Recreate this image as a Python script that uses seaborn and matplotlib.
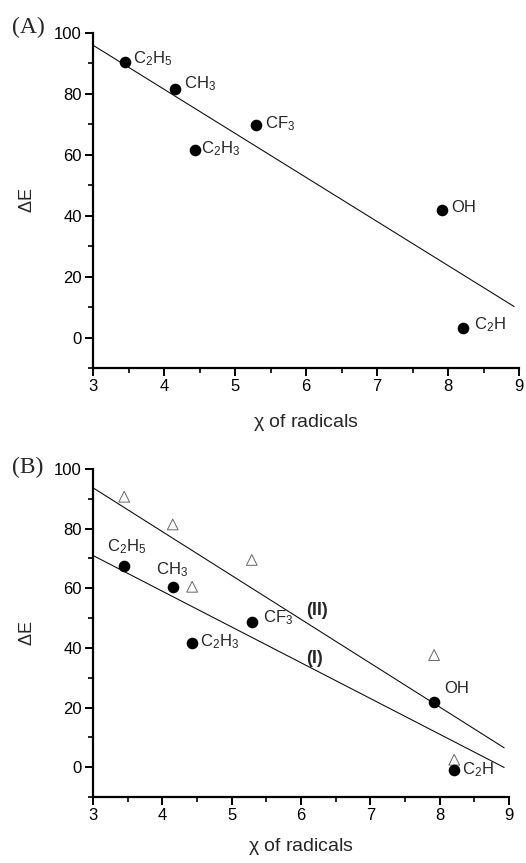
import numpy as np
import pandas as pd
import matplotlib
matplotlib.use("Agg")
import matplotlib.pyplot as plt
from matplotlib.ticker import MultipleLocator
import seaborn as sns

# values
radicals = ["C2H5", "CH3", "C2H3", "CF3", "OH", "C2H"]
chi = [3.45, 4.15, 4.43, 5.29, 7.92, 8.21]
dE_a = [90.5, 81.6, 61.6, 69.8, 41.8, 3.0]
dE_b_circle = [67.6, 60.5, 41.5, 48.6, 21.7, -1.0]
dE_b_triangle = [90.7, 81.4, 60.5, 69.5, 37.6, 2.5]

fit_x = [3.0, 8.93]
fit_a = [96.0, 10.2]
fit_b_I = [71.0, -0.1]
fit_b_II = [93.7, 6.5]

labels_tex = {
    "C2H5": r"C$_2$H$_5$",
    "CH3": r"CH$_3$",
    "C2H3": r"C$_2$H$_3$",
    "CF3": r"CF$_3$",
    "OH": "OH",
    "C2H": r"C$_2$H",
}

sns.set_style("ticks")
plt.rcParams["font.family"] = ["Liberation Sans", "DejaVu Sans"]
plt.rcParams["mathtext.fontset"] = "custom"
plt.rcParams["mathtext.rm"] = "Liberation Sans"
plt.rcParams["mathtext.default"] = "regular"

df_a = pd.DataFrame({"radical": radicals, "chi": chi, "dE": dE_a})
df_b = pd.DataFrame({"radical": radicals, "chi": chi,
                     "circle": dE_b_circle, "triangle": dE_b_triangle})

fig = plt.figure(figsize=(5.26, 8.63), dpi=100)
ax_a = fig.add_axes([93 / 526, 1 - 368 / 863, 426 / 526, 335 / 863])
ax_b = fig.add_axes([93 / 526, 1 - 797 / 863, 416 / 526, 328 / 863])


def style_axis(ax):
    ax.set_xlim(3, 9)
    ax.set_ylim(-10, 100)
    ax.xaxis.set_major_locator(MultipleLocator(1))
    ax.xaxis.set_minor_locator(MultipleLocator(0.5))
    ax.yaxis.set_major_locator(MultipleLocator(20))
    ax.yaxis.set_minor_locator(MultipleLocator(10))
    ax.set_yticks([0, 20, 40, 60, 80, 100])
    for side in ["top", "right"]:
        ax.spines[side].set_visible(False)
    for side in ["left", "bottom"]:
        ax.spines[side].set_linewidth(1.6)
        ax.spines[side].set_color("black")
    ax.tick_params(which="major", length=6, width=1.4, labelsize=12, pad=2, colors="black")
    ax.tick_params(which="minor", length=3.5, width=1.2, colors="black")
    ax.set_ylabel(r"$\Delta$E", fontsize=13, labelpad=13)
    ax.set_facecolor("white")


# (A)
sns.lineplot(x=fit_x, y=fit_a, ax=ax_a, color="#111111", linewidth=0.8)
sns.scatterplot(data=df_a, x="chi", y="dE", ax=ax_a, color="black",
                s=70, marker="o", edgecolor="black", linewidth=0, zorder=3)
offsets_a = {"C2H5": (8, -1), "CH3": (9, 1), "C2H3": (6, -3),
             "CF3": (9, -3), "OH": (9, -2), "C2H": (11, -1)}
for _, row in df_a.iterrows():
    ax_a.annotate(labels_tex[row["radical"]], (row["chi"], row["dE"]),
                  xytext=offsets_a[row["radical"]], textcoords="offset pixels",
                  ha="left", va="baseline", fontsize=12)
style_axis(ax_a)
ax_a.set_xlabel(r"$\chi$ of radicals", fontsize=14, labelpad=13)

# (B)
sns.lineplot(x=fit_x, y=fit_b_II, ax=ax_b, color="#111111", linewidth=0.8)
sns.lineplot(x=fit_x, y=fit_b_I, ax=ax_b, color="#111111", linewidth=0.8)
sns.scatterplot(data=df_b, x="chi", y="triangle", ax=ax_b, marker="^",
                s=60, facecolor="none", edgecolor="#666666", linewidth=0.7, zorder=3)
sns.scatterplot(data=df_b, x="chi", y="circle", ax=ax_b, color="black",
                s=70, marker="o", edgecolor="black", linewidth=0, zorder=4)
offsets_b = {"C2H5": (-17, 14), "CH3": (-17, 12), "C2H3": (8, -3),
             "CF3": (11, 0), "OH": (10, 9), "C2H": (8, -4)}
for _, row in df_b.iterrows():
    ax_b.annotate(labels_tex[row["radical"]], (row["chi"], row["circle"]),
                  xytext=offsets_b[row["radical"]], textcoords="offset pixels",
                  ha="left", va="baseline", fontsize=12)
ax_b.text(6.23, 51, "(II)", fontsize=13, fontweight="bold", ha="center", va="baseline")
ax_b.text(6.20, 35, "(I)", fontsize=13, fontweight="bold", ha="center", va="baseline")
style_axis(ax_b)
ax_b.set_xlabel(r"$\chi$ of radicals", fontsize=14, labelpad=9)

fig.text(12 / 526, 1 - 27 / 863, "(A)", family="Liberation Serif", fontsize=17,
         ha="left", va="center")
fig.text(12 / 526, 1 - 467 / 863, "(B)", family="Liberation Serif", fontsize=17,
         ha="left", va="center")

fig.savefig("out.png", dpi=100, facecolor="white")
